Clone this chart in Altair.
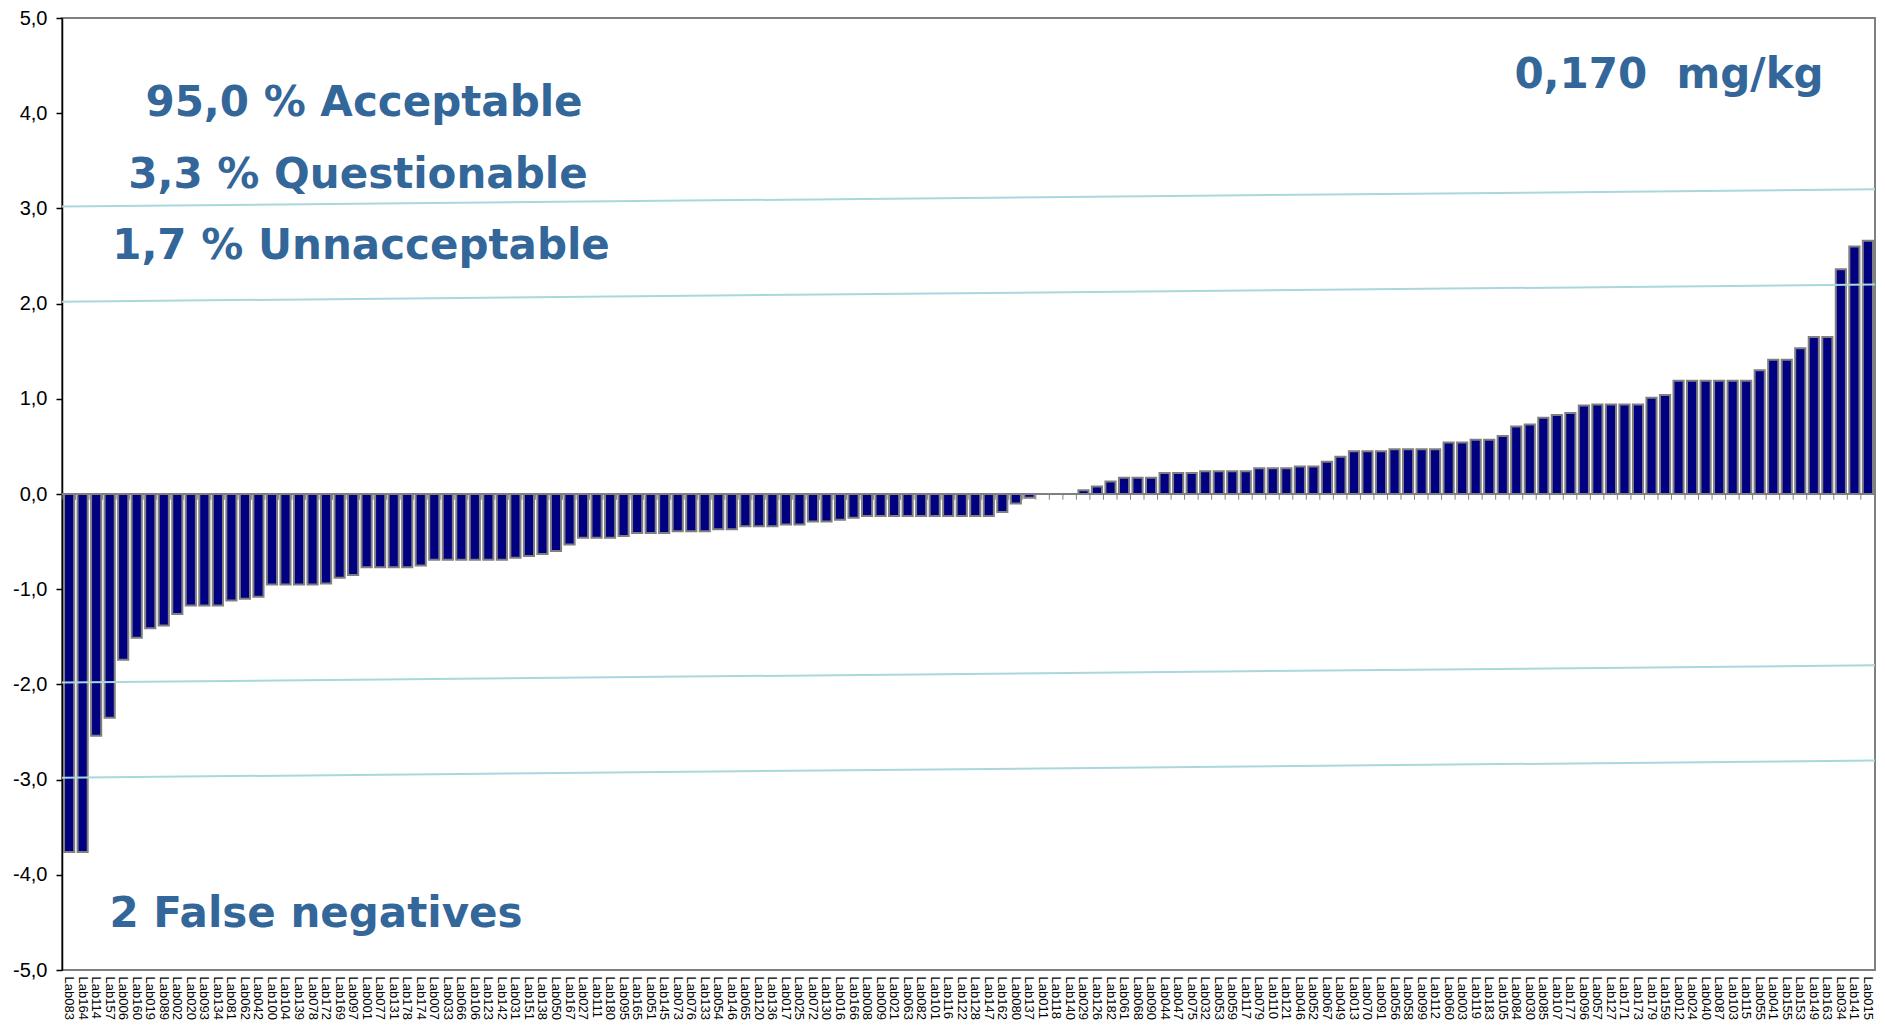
import altair as alt
import pandas as pd

labs = [
    "Lab083", "Lab164", "Lab114", "Lab157", "Lab006", "Lab160", "Lab019", "Lab089", "Lab002", "Lab020",
    "Lab093", "Lab134", "Lab081", "Lab062", "Lab042", "Lab100", "Lab104", "Lab139", "Lab078", "Lab172",
    "Lab169", "Lab097", "Lab001", "Lab077", "Lab131", "Lab178", "Lab174", "Lab007", "Lab033", "Lab066",
    "Lab106", "Lab123", "Lab142", "Lab031", "Lab151", "Lab138", "Lab050", "Lab167", "Lab027", "Lab111",
    "Lab180", "Lab095", "Lab165", "Lab051", "Lab145", "Lab073", "Lab076", "Lab133", "Lab054", "Lab146",
    "Lab065", "Lab120", "Lab136", "Lab017", "Lab025", "Lab072", "Lab130", "Lab016", "Lab166", "Lab008",
    "Lab009", "Lab021", "Lab063", "Lab082", "Lab101", "Lab116", "Lab122", "Lab128", "Lab147", "Lab162",
    "Lab080", "Lab137", "Lab011", "Lab118", "Lab140", "Lab029", "Lab126", "Lab182", "Lab061", "Lab068",
    "Lab090", "Lab044", "Lab047", "Lab075", "Lab032", "Lab053", "Lab059", "Lab117", "Lab079", "Lab110",
    "Lab121", "Lab046", "Lab052", "Lab067", "Lab049", "Lab013", "Lab070", "Lab091", "Lab056", "Lab058",
    "Lab099", "Lab112", "Lab060", "Lab003", "Lab119", "Lab183", "Lab105", "Lab084", "Lab030", "Lab085",
    "Lab107", "Lab177", "Lab096", "Lab057", "Lab127", "Lab171", "Lab173", "Lab179", "Lab159", "Lab012",
    "Lab024", "Lab040", "Lab087", "Lab103", "Lab115", "Lab055", "Lab041", "Lab155", "Lab153", "Lab149",
    "Lab163", "Lab034", "Lab141", "Lab015",
]

scores = [
    -3.76, -3.76, -2.54, -2.35, -1.74, -1.51, -1.41, -1.38, -1.26, -1.17,
    -1.17, -1.17, -1.12, -1.10, -1.08, -0.95, -0.95, -0.95, -0.95, -0.94,
    -0.88, -0.85, -0.77, -0.77, -0.77, -0.77, -0.75, -0.69, -0.69, -0.69,
    -0.69, -0.69, -0.69, -0.67, -0.65, -0.63, -0.60, -0.53, -0.46, -0.46,
    -0.46, -0.44, -0.41, -0.41, -0.41, -0.39, -0.39, -0.39, -0.37, -0.37,
    -0.34, -0.34, -0.34, -0.32, -0.32, -0.29, -0.29, -0.27, -0.25, -0.23,
    -0.23, -0.23, -0.23, -0.23, -0.23, -0.23, -0.23, -0.23, -0.23, -0.19,
    -0.10, -0.04, None, None, None, 0.04, 0.08, 0.13, 0.17, 0.17,
    0.17, 0.22, 0.22, 0.22, 0.24, 0.24, 0.24, 0.24, 0.27, 0.27,
    0.27, 0.29, 0.29, 0.34, 0.39, 0.45, 0.45, 0.45, 0.47, 0.47,
    0.47, 0.47, 0.54, 0.54, 0.57, 0.57, 0.61, 0.71, 0.73, 0.80,
    0.83, 0.85, 0.93, 0.94, 0.94, 0.94, 0.94, 1.01, 1.04, 1.19,
    1.19, 1.19, 1.19, 1.19, 1.19, 1.30, 1.41, 1.41, 1.53, 1.65,
    1.65, 2.36, 2.60, 2.66,
]

# limit lines (+/-2 and +/-3), drawn slightly tilted as in the original
limit_left = [3.02, 2.02, -1.98, -2.98]
limit_right = [3.20, 2.20, -1.80, -2.80]

W, H = 1813, 952
TEXT_BLUE = "#336699"

df = pd.DataFrame({"lab": labs, "score": scores})
df_lim = pd.DataFrame({"y_left": limit_left, "y_right": limit_right})

x_scale = alt.Scale(domain=labs, paddingInner=0.25, paddingOuter=0.15)
y_scale = alt.Scale(domain=[-5, 5], nice=False, zero=False)

x_axis = alt.Axis(
    title=None, labelAngle=90, ticks=False, domain=False,
    labelFont="Liberation Sans", labelFontSize=13, labelColor="black",
    labelPadding=6, labelOverlap=False, labelFlush=False,
)
y_axis = alt.Axis(
    title=None, values=list(range(-5, 6)), labelExpr="datum.value + ',0'",
    grid=False, domainColor="black", domainWidth=1.5, tickColor="black",
    tickWidth=1.5, tickSize=6, labelFont="Liberation Sans", labelFontSize=20,
    labelColor="black", labelPadding=9,
)

bars = alt.Chart(df).mark_bar(fill="#000080", stroke="#808080", strokeWidth=2).encode(
    x=alt.X("lab:N", scale=x_scale, sort=None, axis=x_axis),
    y=alt.Y("score:Q", scale=y_scale, axis=y_axis),
)

zero_line = alt.Chart(df).mark_rule(color="#808080", strokeWidth=1.5).encode(
    x=alt.value(0), x2=alt.value(W), y=alt.datum(0)
)

zero_ticks = alt.Chart(df).mark_rule(color="#808080", strokeWidth=1, xOffset=-2).encode(
    x=alt.X("lab:N", scale=x_scale, sort=None, bandPosition=0, axis=x_axis),
    y=alt.datum(0),
    y2=alt.datum(-0.06),
)

limits = alt.Chart(df_lim).mark_rule(color="#A9D7DC", strokeWidth=2).encode(
    x=alt.value(0), x2=alt.value(W),
    y=alt.Y("y_left:Q", scale=y_scale, axis=y_axis), y2="y_right:Q",
)

def note(txt, px, py):
    return alt.Chart(df.head(1)).mark_text(
        text=txt, font="DejaVu Sans", fontWeight="bold", fontSize=42,
        color=TEXT_BLUE, align="center", baseline="alphabetic",
    ).encode(x=alt.value(px), y=alt.value(py))

texts = [
    note("95,0 % Acceptable", 302, 98),
    note("3,3 % Questionable", 296, 170),
    note("1,7 % Unnacceptable", 299, 241),
    note("2 False negatives", 254, 909),
    note("0,170\u00a0 mg/kg", 1607, 70),
]

chart = alt.layer(bars, zero_line, zero_ticks, limits, *texts).properties(
    width=W, height=H,
    autosize=alt.AutoSizeParams(type="none"),
    padding={"left": 54, "top": 10, "right": 2, "bottom": 50},
).configure_view(stroke="#808080", strokeWidth=2)

chart.save("out.html", embed_options={"renderer": "svg", "actions": False})
